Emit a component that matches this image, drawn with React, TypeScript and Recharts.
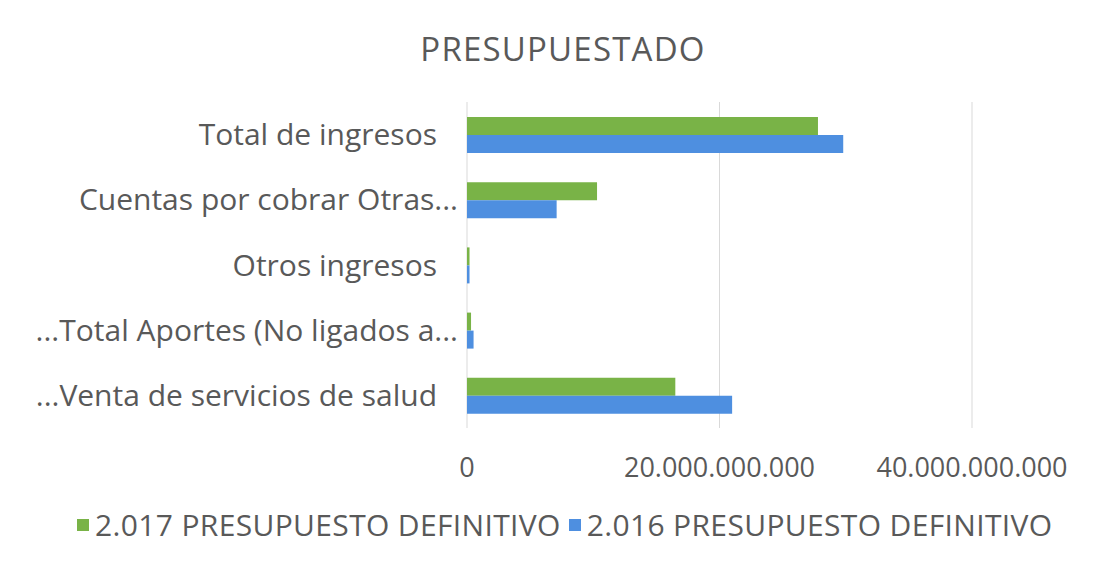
import React from 'react';
import { BarChart, Bar, XAxis, YAxis, CartesianGrid } from 'recharts';

const categories = [
  'Total de ingresos',
  'Cuentas por cobrar Otras...',
  'Otros ingresos',
  '...Total Aportes (No ligados a...',
  '...Venta de servicios de salud',
];
const values2017 = [27.8e9, 10.3e9, 0.2e9, 0.32e9, 16.5e9];
const values2016 = [29.8e9, 7.1e9, 0.2e9, 0.52e9, 21.0e9];
const xTicks = [0, 20e9, 40e9];

const series = [
  { key: 'y2017', name: '2.017 PRESUPUESTO DEFINITIVO', color: '#79b347' },
  { key: 'y2016', name: '2.016 PRESUPUESTO DEFINITIVO', color: '#4e8fe0' },
];

const data = categories.map((name, i) => ({
  name,
  y2017: values2017[i],
  y2016: values2016[i],
}));

const font = '"Open Sans", sans-serif';
const textColor = '#595959';

const formatDots = (v: number) =>
  String(Math.round(v)).replace(/\B(?=(\d{3})+(?!\d))/g, '.');

// labels cut off by excel keep their trailing dots a bit further right
const CategoryTick = (props: any) => {
  const { x, y, payload } = props;
  const label = String(payload.value);
  const shift = label.endsWith('...') ? 21 : 0;
  return (
    <text x={x + shift} y={y} dy="0.355em" textAnchor="end" fill={textColor} fontSize={30} fontFamily={font}>
      {label}
    </text>
  );
};

export default function App() {
  return (
    <div style={{ position: 'absolute', left: 0, top: 0, width: 1106, height: 565, background: '#fff', fontFamily: font }}>
      <div
        style={{
          position: 'absolute',
          top: 32,
          left: 0,
          width: 1126,
          textAlign: 'center',
          fontSize: 33,
          lineHeight: 1,
          letterSpacing: 1.2,
          color: textColor,
        }}
      >
        PRESUPUESTADO
      </div>
      <BarChart
        width={1106}
        height={565}
        data={data}
        layout="vertical"
        margin={{ top: 102, right: 134, bottom: 97, left: 0 }}
        barCategoryGap="23%"
        barGap={0}
      >
        <CartesianGrid horizontal={false} vertical stroke="#d9d9d9" />
        <XAxis
          type="number"
          domain={[0, 40e9]}
          ticks={xTicks}
          tickFormatter={formatDots}
          axisLine={false}
          tickLine={false}
          tickSize={0}
          tickMargin={30}
          height={40}
          tick={{ fill: textColor, fontSize: 27, fontFamily: font }}
        />
        <YAxis
          type="category"
          dataKey="name"
          width={467}
          axisLine={false}
          tickLine={false}
          tickSize={0}
          tickMargin={30}
          interval={0}
          tick={<CategoryTick />}
        />
        {series.map((s) => (
          <Bar key={s.key} dataKey={s.key} name={s.name} fill={s.color} isAnimationActive={false} />
        ))}
      </BarChart>
      <div
        style={{
          position: 'absolute',
          top: 510,
          left: 77,
          display: 'flex',
          alignItems: 'center',
          fontSize: 30,
          lineHeight: 1,
          letterSpacing: 0.35,
          color: textColor,
          whiteSpace: 'nowrap',
        }}
      >
        {series.map((s) => (
          <div key={s.key} style={{ display: 'flex', alignItems: 'center', marginRight: 8 }}>
            <span style={{ display: 'inline-block', width: 12, height: 12, background: s.color, marginRight: 6 }} />
            <span>{s.name}</span>
          </div>
        ))}
      </div>
    </div>
  );
}
